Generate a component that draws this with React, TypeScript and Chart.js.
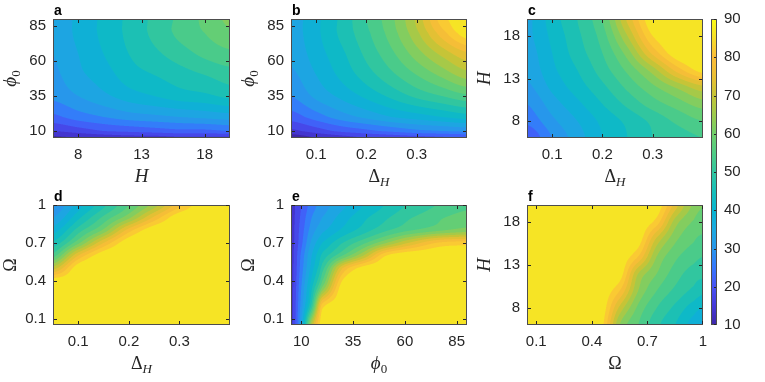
import React, { useEffect, useRef } from "react";
import { Chart, registerables } from "chart.js";

Chart.register(...registerables);

const W = 765;
const HGT = 382;
const SANS = "'Liberation Sans', Arial, Helvetica, sans-serif";
const SERIF = "'Liberation Serif', 'DejaVu Serif', 'Times New Roman', serif";
const INK = "#262626";
const FRAME = "#4d4d4d";

// ---------- axis ticks / contour levels ----------
const H_TICKS = [8, 13, 18];
const PHI_TICKS = [10, 35, 60, 85];
const DH_TICKS = [0.1, 0.2, 0.3];
const OMEGA_TICKS = [0.1, 0.4, 0.7, 1];
const CBAR_TICKS = [10, 20, 30, 40, 50, 60, 70, 80, 90];
const LEVELS = [10, 14, 18, 22, 26, 30, 34, 38, 42, 46, 50, 54, 58, 62, 66, 70, 74, 78, 82, 86];
const CMIN = 10;
const CMAX = 90;

// ---------- panel a : x = H, y = phi0 ----------
const aH = [6, 8, 10, 12, 14, 16, 18, 20];
const aPhi = [5, 10, 20, 35, 50, 65, 80, 90];
const aVals = [
  [13, 14, 15, 16, 16, 17, 17, 17],
  [18, 20, 22, 23, 24, 25, 25, 26],
  [25, 28, 30, 32, 33, 34, 35, 36],
  [31, 34, 37, 40, 42, 44, 45, 47],
  [33, 37, 40, 44, 46, 48, 50, 52],
  [34, 38, 42, 46, 49, 52, 55, 57],
  [35, 39, 43, 47, 51, 55, 58, 61],
  [35, 39, 43, 47, 51, 55, 59, 63],
];

// ---------- panel b : x = DeltaH, y = phi0 ----------
const bDH = [0.05, 0.1, 0.15, 0.2, 0.25, 0.3, 0.35, 0.4];
const bPhi = [5, 10, 20, 35, 50, 65, 80, 90];
const bVals = [
  [11, 14, 16, 18, 19, 20, 21, 22],
  [17, 20, 23, 25, 27, 29, 30, 31],
  [24, 28, 32, 35, 38, 40, 42, 44],
  [30, 35, 39, 43, 47, 51, 54, 57],
  [33, 38, 43, 48, 53, 58, 63, 68],
  [35, 40, 45, 51, 57, 64, 71, 77],
  [36, 41, 47, 53, 60, 69, 80, 88.5],
  [36, 41, 47, 54, 61, 71, 84, 89.6],
];

// ---------- panel c : x = DeltaH, y = H ----------
const cDH = [0.05, 0.1, 0.15, 0.2, 0.25, 0.3, 0.35, 0.4];
const cH = [6, 8, 10, 12, 14, 16, 18, 20];
const cVals = [
  [22, 30, 36, 42, 46, 50, 52, 54],
  [27, 33, 38, 43, 47, 51, 55, 58],
  [30, 36, 41, 46, 51, 56, 60, 64],
  [33, 39, 44, 49, 55, 61, 67, 73],
  [35, 41, 46, 52, 59, 68, 80, 88],
  [36, 42, 48, 54, 64, 79, 89.2, 89.4],
  [37, 43, 49, 56, 70, 86, 89.5, 89.7],
  [37, 44, 50, 58, 75, 89.5, 89.6, 89.8],
];

// ---------- panel d : x = DeltaH, y = Omega ----------
const dDH = [0.05, 0.1, 0.15, 0.2, 0.25, 0.3, 0.35, 0.4];
const dOmega = [0.05, 0.2, 0.3, 0.4, 0.5, 0.6, 0.7, 0.8, 0.9, 1.0];
const dVals = [
  [89.5, 89.5, 89.5, 89.5, 89.5, 89.6, 89.6, 89.7],
  [89.5, 89.5, 89.5, 89.5, 89.5, 89.6, 89.6, 89.7],
  [89.4, 89.5, 89.5, 89.5, 89.5, 89.6, 89.6, 89.7],
  [88.5, 89.3, 89.4, 89.5, 89.5, 89.6, 89.6, 89.7],
  [72, 89, 89.2, 89.3, 89.4, 89.5, 89.6, 89.7],
  [56, 78, 89.1, 89.3, 89.4, 89.5, 89.6, 89.7],
  [47, 61, 78, 89.2, 89.4, 89.5, 89.6, 89.7],
  [40, 52, 63, 80, 89.2, 89.5, 89.6, 89.7],
  [34, 45, 55, 65, 79, 89.3, 89.6, 89.7],
  [30, 40, 49, 58, 68, 81, 89.5, 89.7],
];

// ---------- panel e : x = phi0, y = Omega ----------
const ePhi = [5, 10, 15, 20, 30, 40, 50, 60, 75, 90];
const eOmega = [0.05, 0.2, 0.35, 0.5, 0.6, 0.7, 0.8, 0.9, 1.0];
const eVals = [
  [16, 35, 70, 89, 89.3, 89.4, 89.5, 89.5, 89.6, 89.6],
  [16, 32, 52, 84, 89.2, 89.4, 89.5, 89.5, 89.6, 89.6],
  [16, 30, 45, 62, 89, 89.3, 89.4, 89.5, 89.6, 89.6],
  [16, 28, 40, 52, 78, 88, 89.3, 89.4, 89.5, 89.6],
  [16, 27, 38, 47, 58, 70, 85, 89.3, 89.5, 89.6],
  [16, 25, 35, 42, 50, 57, 65, 73, 82, 84],
  [16, 24, 32, 37, 43, 48, 53, 57, 61, 64],
  [16, 23, 30, 34, 40, 45, 49, 53, 57, 60],
  [16, 22, 28, 32, 37, 42, 46, 50, 54, 57],
];

// ---------- panel f : x = Omega, y = H ----------
const fOmega = [0.05, 0.2, 0.35, 0.45, 0.55, 0.65, 0.75, 0.85, 0.95, 1.0];
const fH = [6, 8, 10, 12, 14, 16, 18, 20];
const fVals = [
  [89.5, 89.5, 89.5, 88, 66, 58, 51, 46, 40, 37],
  [89.5, 89.5, 89.5, 89.3, 73, 61, 54, 49, 44, 42],
  [89.5, 89.5, 89.5, 89.4, 82, 66, 58, 53, 49, 47],
  [89.5, 89.5, 89.5, 89.4, 88.5, 70, 62, 56, 52, 51],
  [89.5, 89.5, 89.5, 89.4, 89.3, 82, 66, 59, 55.5, 54],
  [89.5, 89.5, 89.5, 89.4, 89.3, 88.5, 73, 63, 58.5, 57],
  [89.5, 89.5, 89.5, 89.4, 89.3, 89.3, 84, 68, 61.5, 60],
  [89.5, 89.5, 89.5, 89.4, 89.3, 89.3, 89, 76, 65, 62],
];

// ---------- parula colormap anchors (t = 0 .. 1 in 1/16 steps) ----------
const PARULA: number[][] = [
  [0.2422, 0.1504, 0.6603],
  [0.2691, 0.2220, 0.8500],
  [0.2810, 0.3228, 0.9579],
  [0.2100, 0.4650, 0.9900],
  [0.1540, 0.5902, 0.9218],
  [0.1060, 0.6620, 0.8760],
  [0.0297, 0.7082, 0.8163],
  [0.0900, 0.7480, 0.7250],
  [0.1938, 0.7758, 0.6251],
  [0.3150, 0.8000, 0.5200],
  [0.4420, 0.8100, 0.4200],
  [0.6200, 0.7950, 0.3000],
  [0.7752, 0.7700, 0.2156],
  [0.9200, 0.7500, 0.2000],
  [0.9899, 0.7400, 0.2240],
  [0.9640, 0.8700, 0.1600],
  [0.9769, 0.9839, 0.0805],
];

function parula(t: number): number[] {
  const tt = Math.max(0, Math.min(1, t));
  const f = tt * (PARULA.length - 1);
  const i = Math.min(PARULA.length - 2, Math.floor(f));
  const u = f - i;
  const a = PARULA[i];
  const b = PARULA[i + 1];
  return [0, 1, 2].map((k) => 255 * (a[k] + (b[k] - a[k]) * u));
}

const LEVEL_COLORS = LEVELS.map((L) => parula((L - CMIN) / (CMAX - CMIN)));

function colorForValue(v: number): number[] {
  let k = 0;
  for (let i = 0; i < LEVELS.length; i++) if (v >= LEVELS[i]) k = i;
  return LEVEL_COLORS[k];
}

function locate(arr: number[], v: number): [number, number] {
  const n = arr.length;
  if (v <= arr[0]) return [0, 0];
  if (v >= arr[n - 1]) return [n - 2, 1];
  let i = 0;
  while (v > arr[i + 1]) i++;
  return [i, (v - arr[i]) / (arr[i + 1] - arr[i])];
}

function cr(p0: number, p1: number, p2: number, p3: number, t: number): number {
  return 0.5 * (2 * p1 + (-p0 + p2) * t + (2 * p0 - 5 * p1 + 4 * p2 - p3) * t * t + (-p0 + 3 * p1 - 3 * p2 + p3) * t * t * t);
}

type Part = { t: string; italic?: boolean; size: number; dy?: number };
const T_H: Part[] = [{ t: "H", italic: true, size: 19 }];
const T_PHI: Part[] = [
  { t: "\u03D5", italic: true, size: 19 },
  { t: "0", size: 13, dy: 4 },
];
const T_DH: Part[] = [
  { t: "\u0394", size: 18 },
  { t: "H", italic: true, size: 13, dy: 4 },
];
const T_OM: Part[] = [{ t: "\u03A9", size: 18 }];

type Panel = {
  key: string;
  xs: number[];
  ys: number[];
  vals: number[][];
  xMin: number;
  xMax: number;
  yMin: number;
  yMax: number;
  xTicks: number[];
  yTicks: number[];
  xTitle: Part[];
  yTitle: Part[];
  box: number[];
};

const PANELS: Panel[] = [
  { key: "a", xs: aH, ys: aPhi, vals: aVals, xMin: 6, xMax: 20, yMin: 5, yMax: 90, xTicks: H_TICKS, yTicks: PHI_TICKS, xTitle: T_H, yTitle: T_PHI, box: [53, 19, 230, 138] },
  { key: "b", xs: bDH, ys: bPhi, vals: bVals, xMin: 0.05, xMax: 0.4, yMin: 5, yMax: 90, xTicks: DH_TICKS, yTicks: PHI_TICKS, xTitle: T_DH, yTitle: T_PHI, box: [291, 19, 467, 138] },
  { key: "c", xs: cDH, ys: cH, vals: cVals, xMin: 0.05, xMax: 0.4, yMin: 6, yMax: 20, xTicks: DH_TICKS, yTicks: H_TICKS, xTitle: T_DH, yTitle: T_H, box: [527, 19, 703, 138] },
  { key: "d", xs: dDH, ys: dOmega, vals: dVals, xMin: 0.05, xMax: 0.4, yMin: 0.05, yMax: 1, xTicks: DH_TICKS, yTicks: OMEGA_TICKS, xTitle: T_DH, yTitle: T_OM, box: [53, 205, 230, 325] },
  { key: "e", xs: ePhi, ys: eOmega, vals: eVals, xMin: 5, xMax: 90, yMin: 0.05, yMax: 1, xTicks: PHI_TICKS, yTicks: OMEGA_TICKS, xTitle: T_PHI, yTitle: T_OM, box: [291, 205, 467, 325] },
  { key: "f", xs: fOmega, ys: fH, vals: fVals, xMin: 0.05, xMax: 1, yMin: 6, yMax: 20, xTicks: OMEGA_TICKS, yTicks: H_TICKS, xTitle: T_OM, yTitle: T_H, box: [527, 205, 703, 325] },
];

const CBAR_BOX = [711, 19, 717, 325];

// smooth (clamped Catmull-Rom) interpolation of the grid, like contourf's smooth contour lines
function sampleGrid(p: Panel, x: number, y: number): number {
  const [i, tx] = locate(p.xs, x);
  const [j, ty] = locate(p.ys, y);
  const g = p.vals;
  const nx = p.xs.length;
  const ny = p.ys.length;
  const ci = (k: number) => Math.max(0, Math.min(nx - 1, k));
  const cj = (k: number) => Math.max(0, Math.min(ny - 1, k));
  const rows: number[] = [];
  for (let dj = -1; dj <= 2; dj++) {
    const row = g[cj(j + dj)];
    rows.push(cr(row[ci(i - 1)], row[ci(i)], row[ci(i + 1)], row[ci(i + 2)], tx));
  }
  let v = cr(rows[0], rows[1], rows[2], rows[3], ty);
  const c = [g[j][i], g[j][i + 1], g[j + 1][i], g[j + 1][i + 1]];
  v = Math.max(Math.min(...c), Math.min(Math.max(...c), v));
  return v;
}

function drawParts(ctx: CanvasRenderingContext2D, parts: Part[], cx: number, by: number) {
  const fonts = parts.map((pt) => `${pt.italic ? "italic " : ""}${pt.size}px ${SERIF}`);
  let total = 0;
  const widths = parts.map((pt, i) => {
    ctx.font = fonts[i];
    const w = ctx.measureText(pt.t).width;
    total += w;
    return w;
  });
  let x = cx - total / 2;
  ctx.fillStyle = INK;
  ctx.textAlign = "left";
  ctx.textBaseline = "alphabetic";
  parts.forEach((pt, i) => {
    ctx.font = fonts[i];
    ctx.fillText(pt.t, x, by + (pt.dy || 0));
    x += widths[i];
  });
}

function axisOpts(min: number, max: number, ticks: number[], kind: "x" | "y", size: number, position: string) {
  return {
    type: "linear",
    position,
    min,
    max,
    grid: { display: false, drawTicks: false },
    border: { display: false },
    afterBuildTicks: (s: any) => {
      s.ticks = ticks.map((v) => ({ value: v }));
    },
    afterFit: (s: any) => {
      if (kind === "x") s.height = size;
      else s.width = size;
      s.paddingLeft = 0;
      s.paddingRight = 0;
      s.paddingTop = 0;
      s.paddingBottom = 0;
    },
    ticks: {
      font: { family: SANS, size: 15 },
      color: INK,
      padding: kind === "x" ? 8 : 7,
      maxRotation: 0,
      minRotation: 0,
      autoSkip: false,
      callback: (v: any) => String(v),
    },
  };
}

function contourPlugin(p: Panel) {
  return {
    id: "contour-" + p.key,
    beforeDatasetsDraw(chart: any) {
      const { ctx, chartArea: ca, scales } = chart;
      const sx = scales.x;
      const sy = scales.y;
      const L = Math.round(ca.left);
      const T = Math.round(ca.top);
      const w = Math.round(ca.right) - L;
      const h = Math.round(ca.bottom) - T;
      const off = document.createElement("canvas");
      off.width = w;
      off.height = h;
      const octx = off.getContext("2d")!;
      const img = octx.createImageData(w, h);
      const SS = 3;
      const xv: number[] = [];
      for (let i = 0; i < w * SS; i++) xv.push(sx.getValueForPixel(L + (i + 0.5) / SS));
      const yv: number[] = [];
      for (let i = 0; i < h * SS; i++) yv.push(sy.getValueForPixel(T + (i + 0.5) / SS));
      for (let py = 0; py < h; py++) {
        for (let px = 0; px < w; px++) {
          let r = 0, g = 0, b = 0;
          for (let a = 0; a < SS; a++) {
            for (let c = 0; c < SS; c++) {
              const col = colorForValue(sampleGrid(p, xv[px * SS + c], yv[py * SS + a]));
              r += col[0];
              g += col[1];
              b += col[2];
            }
          }
          const k = (py * w + px) * 4;
          const n = SS * SS;
          img.data[k] = r / n;
          img.data[k + 1] = g / n;
          img.data[k + 2] = b / n;
          img.data[k + 3] = 255;
        }
      }
      octx.putImageData(img, 0, 0);
      ctx.drawImage(off, L, T);
    },
    afterDraw(chart: any) {
      const { ctx, chartArea: ca, scales } = chart;
      const sx = scales.x;
      const sy = scales.y;
      ctx.save();
      ctx.strokeStyle = FRAME;
      ctx.lineWidth = 1;
      ctx.strokeRect(ca.left + 0.5, ca.top + 0.5, ca.right - ca.left - 1, ca.bottom - ca.top - 1);
      ctx.strokeStyle = INK;
      ctx.beginPath();
      for (const t of sx.ticks) {
        const x = Math.min(Math.round(sx.getPixelForValue(t.value)), ca.right - 1) + 0.5;
        ctx.moveTo(x, ca.bottom - 1);
        ctx.lineTo(x, ca.bottom - 4);
        ctx.moveTo(x, ca.top + 1);
        ctx.lineTo(x, ca.top + 4);
      }
      for (const t of sy.ticks) {
        const y = Math.max(Math.round(sy.getPixelForValue(t.value)), ca.top) + 0.5;
        ctx.moveTo(ca.left + 1, y);
        ctx.lineTo(ca.left + 4, y);
        ctx.moveTo(ca.right - 1, y);
        ctx.lineTo(ca.right - 4, y);
      }
      ctx.stroke();
      const [l, t, r, b] = p.box;
      drawParts(ctx, p.xTitle, (l + r) / 2, b + 44);
      ctx.save();
      ctx.translate(l - 37, (t + b) / 2);
      ctx.rotate(-Math.PI / 2);
      drawParts(ctx, p.yTitle, 0, 0);
      ctx.restore();
      ctx.font = `bold 14px ${SANS}`;
      ctx.fillStyle = "#000";
      ctx.textAlign = "left";
      ctx.textBaseline = "alphabetic";
      ctx.fillText(p.key, l + 1, t - 4);
      ctx.restore();
    },
  };
}

function panelConfig(p: Panel): any {
  const [l, t, r, b] = p.box;
  const YW = 45;
  const XH = 40;
  const points: any[] = [];
  p.ys.forEach((y, j) => p.xs.forEach((x, i) => points.push({ x, y, v: p.vals[j][i] })));
  return {
    type: "scatter",
    data: { datasets: [{ data: points, pointRadius: 0, pointHoverRadius: 0, showLine: false }] },
    options: {
      responsive: false,
      animation: false,
      events: [],
      layout: { padding: { left: l - YW, top: t, right: W - r, bottom: HGT - b - XH } },
      plugins: { legend: { display: false }, tooltip: { enabled: false }, title: { display: false } },
      scales: {
        x: axisOpts(p.xMin, p.xMax, p.xTicks, "x", XH, "bottom"),
        y: axisOpts(p.yMin, p.yMax, p.yTicks, "y", YW, "left"),
      },
    },
    plugins: [contourPlugin(p)],
  };
}

const colorbarPlugin = {
  id: "colorbar",
  beforeDatasetsDraw(chart: any) {
    const { ctx, chartArea: ca, scales } = chart;
    const sy = scales.y;
    const L = Math.round(ca.left);
    const w = Math.round(ca.right) - L;
    for (let py = Math.round(ca.top); py < Math.round(ca.bottom); py++) {
      const v = sy.getValueForPixel(py + 0.5);
      const c = parula((v - CMIN) / (CMAX - CMIN));
      ctx.fillStyle = `rgb(${Math.round(c[0])},${Math.round(c[1])},${Math.round(c[2])})`;
      ctx.fillRect(L, py, w, 1);
    }
  },
  afterDraw(chart: any) {
    const { ctx, chartArea: ca, scales } = chart;
    const sy = scales.y;
    ctx.save();
    ctx.strokeStyle = FRAME;
    ctx.lineWidth = 1;
    ctx.strokeRect(ca.left + 0.5, ca.top + 0.5, ca.right - ca.left - 1, ca.bottom - ca.top - 1);
    ctx.strokeStyle = INK;
    ctx.beginPath();
    for (const t of sy.ticks) {
      const y = Math.min(Math.max(Math.round(sy.getPixelForValue(t.value)), ca.top), ca.bottom - 1) + 0.5;
      ctx.moveTo(ca.right - 1, y);
      ctx.lineTo(ca.right - 3, y);
    }
    ctx.stroke();
    ctx.restore();
  },
};

function colorbarConfig(): any {
  const [l, t, r, b] = CBAR_BOX;
  const YW = 40;
  return {
    type: "scatter",
    data: { datasets: [{ data: CBAR_TICKS.map((v) => ({ x: 0.5, y: v })), pointRadius: 0, pointHoverRadius: 0 }] },
    options: {
      responsive: false,
      animation: false,
      events: [],
      layout: { padding: { left: l, top: t, right: W - r - YW, bottom: HGT - b } },
      plugins: { legend: { display: false }, tooltip: { enabled: false } },
      scales: {
        x: { type: "linear", min: 0, max: 1, display: false },
        y: axisOpts(CMIN, CMAX, CBAR_TICKS, "y", YW, "right"),
      },
    },
    plugins: [colorbarPlugin],
  };
}

const canvasStyle: React.CSSProperties = { position: "absolute", left: 0, top: 0, width: W, height: HGT };

function ChartCanvas({ make }: { make: () => any }) {
  const ref = useRef<HTMLCanvasElement>(null);
  useEffect(() => {
    const chart = new Chart(ref.current as HTMLCanvasElement, make());
    return () => chart.destroy();
  }, []);
  return <canvas ref={ref} width={W} height={HGT} style={canvasStyle} />;
}

export default function App() {
  return (
    <div style={{ position: "absolute", left: 0, top: 0, width: W, height: HGT, background: "#fff", overflow: "hidden" }}>
      {PANELS.map((p) => (
        <ChartCanvas key={p.key} make={() => panelConfig(p)} />
      ))}
      <ChartCanvas key="cbar" make={colorbarConfig} />
    </div>
  );
}
